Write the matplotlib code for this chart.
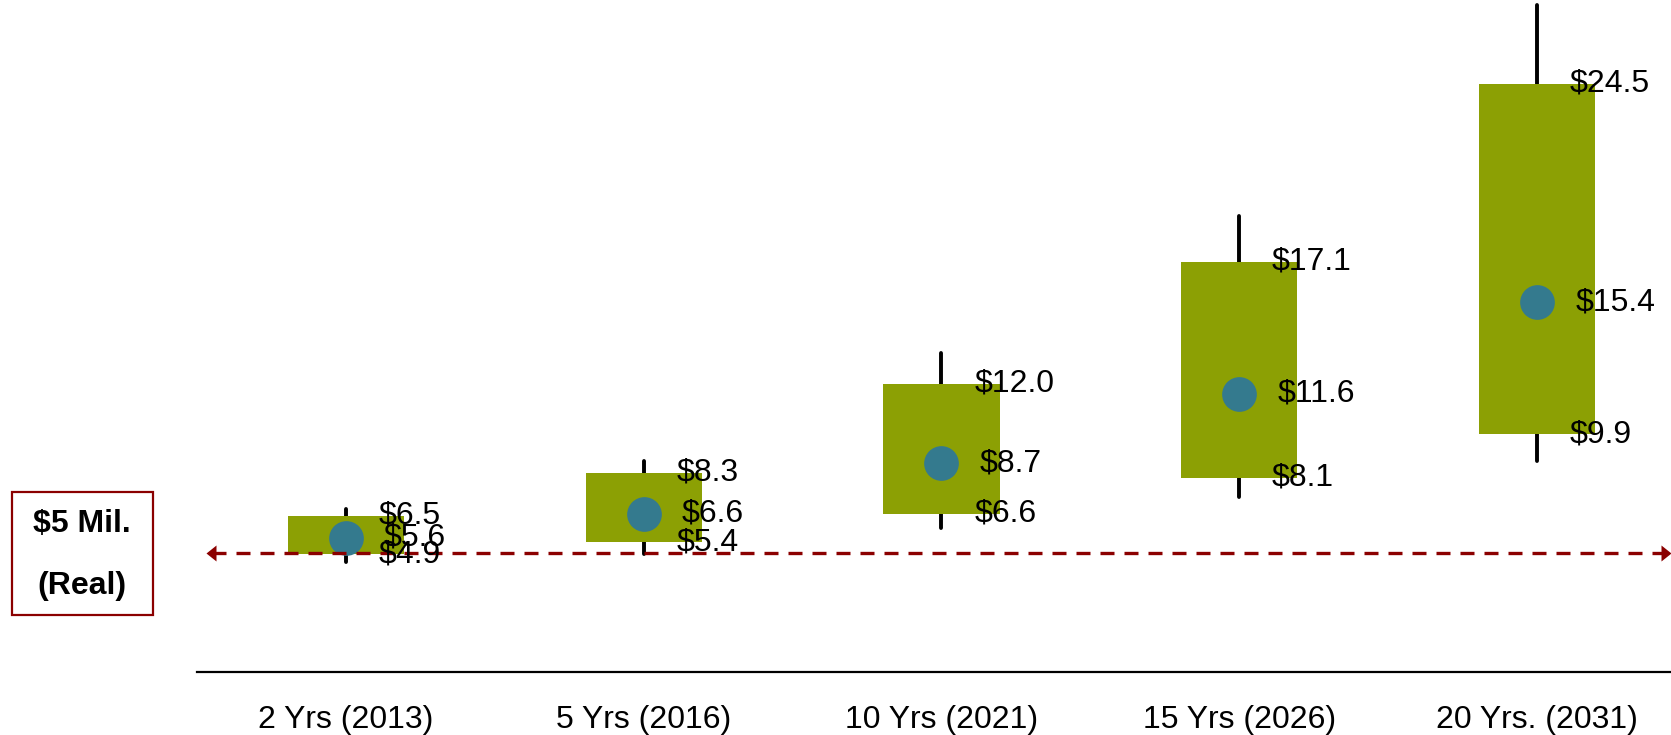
import matplotlib
matplotlib.use("Agg")
import matplotlib.pyplot as plt
from matplotlib.patches import Rectangle

categories = ["2 Yrs (2013)", "5 Yrs (2016)", "10 Yrs (2021)", "15 Yrs (2026)", "20 Yrs. (2031)"]
box_high = [6.5, 8.3, 12.0, 17.1, 24.5]
box_low = [4.9, 5.4, 6.6, 8.1, 9.9]
median = [5.6, 6.6, 8.7, 11.6, 15.4]
whisker_high = [6.8, 8.8, 13.3, 19.0, 27.8]
whisker_low = [4.6, 4.9, 6.0, 7.3, 8.8]
reference_value = 4.95

plt.rcParams['font.family'] = ['Liberation Sans', 'DejaVu Sans']

W, H = 1671, 735
fig = plt.figure(figsize=(W / 100, H / 100), dpi=100)
ax_left = 197 / W
ax_bottom = 1 - 672 / H
ax_width = (1686 - 197) / W
ax = fig.add_axes([ax_left, ax_bottom, ax_width, 672 / H])
ax.set_xlim(-0.5, 4.5)
ax.set_ylim(0, 28.0)

box_color = "#8CA004"
dot_color = "#347A8E"
red = "#8B0000"
bw = 0.39
fs = 23

for i in range(len(categories)):
    ax.plot([i, i], [whisker_low[i], whisker_high[i]], color="black", lw=2.8,
            solid_capstyle="round", zorder=1)
    ax.bar(i, box_high[i] - box_low[i], bottom=box_low[i], width=bw,
           color=box_color, zorder=2)
    ax.plot(i, median[i], 'o', color=dot_color, ms=25, mec='none', zorder=4)
    ax.text(i + 0.11, box_high[i], "\\$%.1f" % box_high[i], fontsize=fs,
            va="center", ha="left", zorder=6)
    ax.text(i + 0.11, box_low[i], "\\$%.1f" % box_low[i], fontsize=fs,
            va="center", ha="left", zorder=6)
    ax.text(i + 0.128, median[i], "\\$%.1f" % median[i], fontsize=fs,
            va="center", ha="left", zorder=6)

# dashed reference line with arrowheads
x0, x1 = -0.47, 4.448
ax.plot([x0 + 0.02, x1 - 0.02], [reference_value, reference_value], color=red,
        lw=2.4, dashes=(4.2, 3.0), zorder=5, clip_on=False)
ax.plot(x1, reference_value, marker=[(0, 0), (-1.0, 0.8), (-1.0, -0.8), (0, 0)],
        ms=14.4, color=red, mec='none', zorder=5, clip_on=False)
ax.plot(x0, reference_value, marker=[(0, 0), (1.0, 0.8), (1.0, -0.8), (0, 0)],
        ms=14.4, color=red, mec='none', zorder=5, clip_on=False)

ax.set_xticks(range(len(categories)))
ax.set_xticklabels(categories, fontsize=fs)
ax.tick_params(axis='x', length=0, pad=24)
ax.set_yticks([])
for s in ["top", "left", "right"]:
    ax.spines[s].set_visible(False)
ax.spines["bottom"].set_linewidth(1.6)

# left label box
rect = Rectangle((12 / W, 1 - 615 / H), (153 - 12) / W, (615 - 492) / H,
                 transform=fig.transFigure, fill=False, edgecolor=red, lw=1.6)
fig.patches.append(rect)
fig.text(82 / W, 1 - 524 / H, "\\$5 Mil.", fontsize=23, fontweight="bold",
         ha="center", va="center")
fig.text(82 / W, 1 - 586 / H, "(Real)", fontsize=23, fontweight="bold",
         ha="center", va="center")

fig.savefig("out.png", dpi=100)
